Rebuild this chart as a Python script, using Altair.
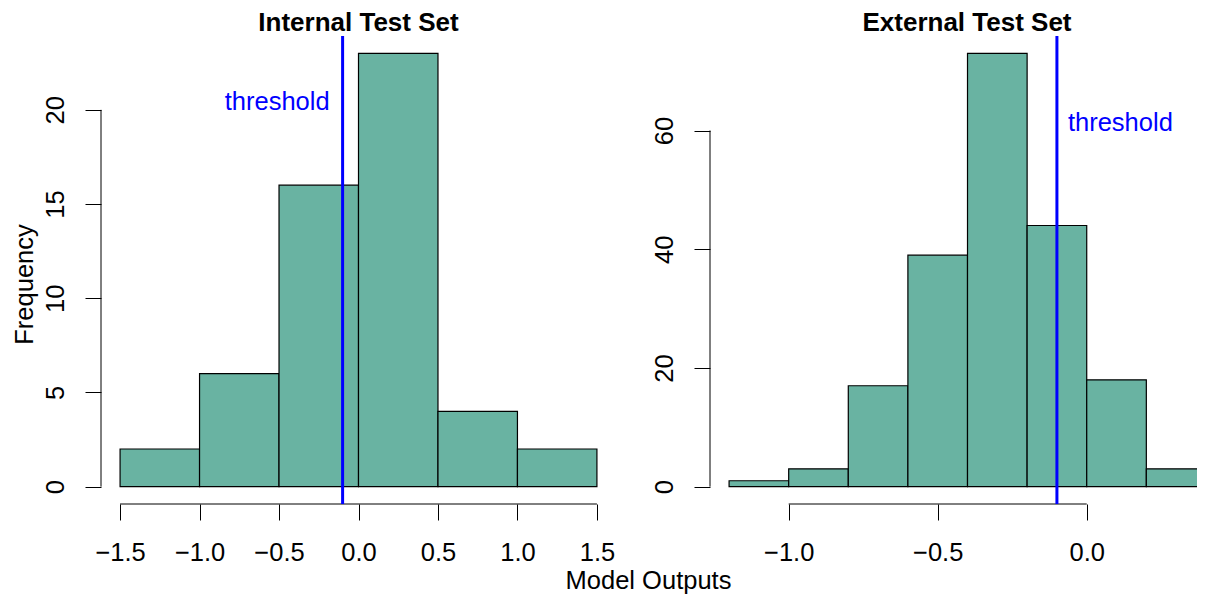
import altair as alt
import pandas as pd

FONT = "Liberation Sans"
FILL = "#69b3a2"
BLUE = "#0000ff"

# ---- data ----
int_bin_start = [-1.5, -1.0, -0.5, 0.0, 0.5, 1.0]
int_bin_end = [-1.0, -0.5, 0.0, 0.5, 1.0, 1.5]
int_counts = [2, 6, 16, 23, 4, 2]

ext_bin_start = [-1.2, -1.0, -0.8, -0.6, -0.4, -0.2, 0.0, 0.2]
ext_bin_end = [-1.0, -0.8, -0.6, -0.4, -0.2, 0.0, 0.2, 0.4]
ext_counts = [1, 3, 17, 39, 73, 44, 18, 3]

threshold = -0.1

int_xticks = [-1.5, -1.0, -0.5, 0.0, 0.5, 1.0, 1.5]
int_yticks = [0, 5, 10, 15, 20]
ext_xticks = [-1.0, -0.5, 0.0]
ext_yticks = [0, 20, 40, 60]

int_label_y = 20
ext_label_y = 60


def panel(title, starts, ends, counts, xdom, ydom, xticks, yticks,
          label_y, label_dx, label_align, width, ytitle, xtitle, title_dx):
    bars = pd.DataFrame({"start": starts, "end": ends, "count": counts})
    xscale = alt.Scale(domain=xdom, nice=False, zero=False)
    yscale = alt.Scale(domain=ydom, nice=False, zero=False)

    xaxis_kw = dict(values=xticks, format=".1f", domain=False, grid=False,
                    ticks=True, tickSize=16, tickColor="black", tickWidth=1,
                    labelFont=FONT, labelFontSize=25.5, labelColor="black",
                    labelBaseline="alphabetic", labelPadding=40,
                    labelFlush=False, labelOverlap=False, labelBound=False)
    if xtitle:
        xaxis_kw.update(title=xtitle, titleFont=FONT, titleFontSize=25.5,
                        titleFontWeight="normal", titleColor="black",
                        titleAlign="center", titleBaseline="alphabetic",
                        titleX=547, titleY=84.5)
    else:
        xaxis_kw.update(title=None)
    xaxis = alt.Axis(**xaxis_kw)

    yaxis_kw = dict(values=yticks, format="d", domain=False, grid=False,
                    ticks=True, tickSize=16, tickColor="black", tickWidth=1,
                    labelFont=FONT, labelFontSize=25.5, labelColor="black",
                    labelAngle=270, labelAlign="center",
                    labelBaseline="alphabetic", labelPadding=22,
                    labelFlush=False, labelOverlap=False, labelBound=False)
    if ytitle:
        yaxis_kw.update(title=ytitle, titleFont=FONT, titleFontSize=25.5,
                        titleFontWeight="normal", titleColor="black",
                        titleAngle=270, titleAlign="center",
                        titleBaseline="alphabetic", titleX=-69, titleY=248)
    else:
        yaxis_kw.update(title=None)
    yaxis = alt.Axis(**yaxis_kw)

    bar_layer = alt.Chart(bars).mark_rect(
        fill=FILL, stroke="black", strokeWidth=1.2, clip=True
    ).encode(
        x=alt.X("start:Q", scale=xscale, axis=xaxis),
        x2="end:Q",
        y=alt.Y("count:Q", scale=yscale, axis=yaxis),
        y2=alt.datum(0),
    )

    xline = alt.Chart(pd.DataFrame({"a": [xticks[0]], "b": [xticks[-1]],
                                    "y": [ydom[0]]})).mark_rule(
        color="black", strokeWidth=1
    ).encode(
        x=alt.X("a:Q", scale=xscale, axis=xaxis),
        x2="b:Q",
        y=alt.Y("y:Q", scale=yscale, axis=yaxis),
    )

    yline = alt.Chart(pd.DataFrame({"x": [xdom[0]], "a": [yticks[0]],
                                    "b": [yticks[-1]]})).mark_rule(
        color="black", strokeWidth=1
    ).encode(
        x=alt.X("x:Q", scale=xscale, axis=xaxis),
        y=alt.Y("a:Q", scale=yscale, axis=yaxis),
        y2="b:Q",
    )

    thr = alt.Chart(pd.DataFrame({"t": [threshold]})).mark_rule(
        color=BLUE, strokeWidth=3
    ).encode(x=alt.X("t:Q", scale=xscale, axis=xaxis))

    txt = alt.Chart(pd.DataFrame({"t": [threshold], "y": [label_y],
                                  "lab": ["threshold"]})).mark_text(
        align=label_align, baseline="alphabetic", dx=label_dx,
        color=BLUE, font=FONT, fontSize=25.5
    ).encode(
        x=alt.X("t:Q", scale=xscale, axis=xaxis),
        y=alt.Y("y:Q", scale=yscale, axis=yaxis),
        text="lab:N",
    )

    return alt.layer(bar_layer, xline, yline, thr, txt).properties(
        width=width, height=468,
        title=alt.TitleParams(title, font=FONT, fontSize=26,
                              fontWeight="bold", color="black",
                              anchor="middle", baseline="alphabetic",
                              offset=-22.5, dx=title_dx),
    )


left = panel("Internal Test Set", int_bin_start, int_bin_end, int_counts,
             [-1.62, 1.62], [-0.92, 23.92], int_xticks, int_yticks,
             int_label_y, -13, "right", 515, "Frequency", "Model Outputs", 0)

right = panel("External Test Set", ext_bin_start, ext_bin_end, ext_counts,
              [-1.264, 0.370], [-2.92, 75.92], ext_xticks, ext_yticks,
              ext_label_y, 11, "left", 487, None, None, 13.5)

chart = alt.hconcat(left, right, spacing=94, bounds="flush").properties(
    padding={"left": 4, "top": 2, "right": 0, "bottom": 0},
    background="white",
).configure_view(stroke=None)

chart.save("out.html", embed_options={"renderer": "svg", "actions": False})
